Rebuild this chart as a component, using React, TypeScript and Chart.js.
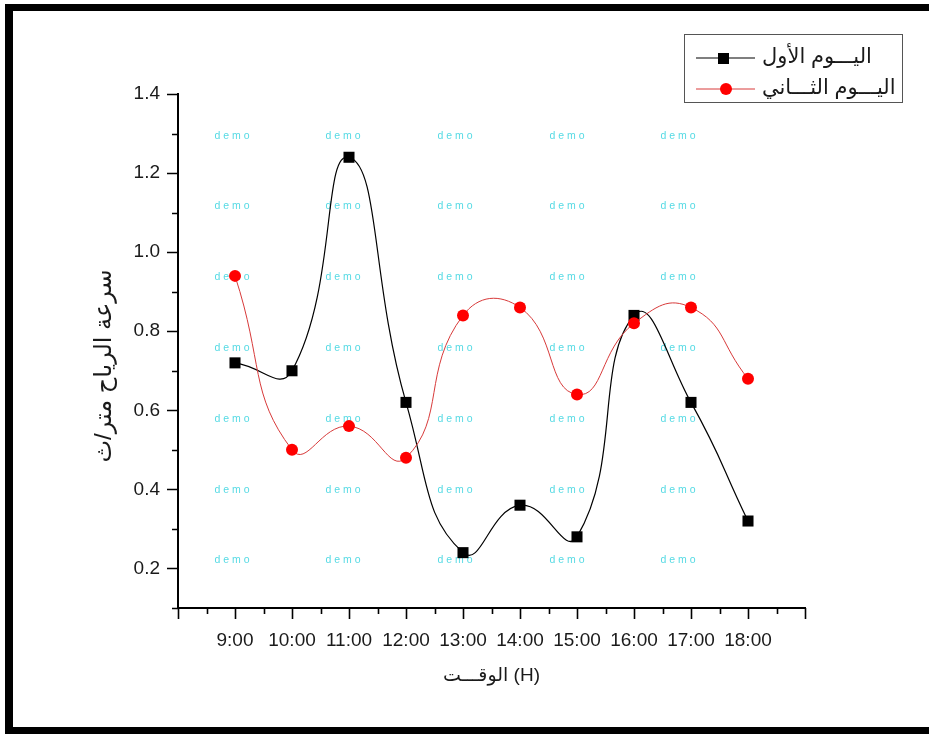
import { useEffect, useRef } from 'react';
import { Chart, registerables } from 'chart.js';

Chart.register(...registerables);

const hours = [9, 10, 11, 12, 13, 14, 15, 16, 17, 18];
const day1Values = [0.72, 0.70, 1.24, 0.62, 0.24, 0.36, 0.28, 0.84, 0.62, 0.32];
const day2Values = [0.94, 0.50, 0.56, 0.48, 0.84, 0.86, 0.64, 0.82, 0.86, 0.68];
const day1Label = 'اليـــوم الأول';
const day2Label = 'اليـــوم الثـــاني';
const xTitle = 'الوقـــت (H)';
const yTitle = 'سرعة الرياح متر/ث';
const watermarkText = 'd e m o';

const FONT = "'Liberation Sans', 'DejaVu Sans', Arial, sans-serif";
const BLACK = '#000000';
const RED_LINE = '#d83a3a';
const RED_FILL = '#ff0000';

const framePlugin = {
  id: 'frame',
  beforeDraw(chart: any) {
    const ctx = chart.ctx;
    ctx.save();
    ctx.fillStyle = '#ffffff';
    ctx.fillRect(0, 0, chart.width, chart.height);
    ctx.fillStyle = '#000000';
    ctx.fillRect(5, 4, chart.width - 5, 7);
    ctx.fillRect(5, 4, 8, chart.height - 4);
    ctx.fillRect(5, 727, chart.width - 5, 7);
    ctx.restore();
  },
};

const watermarkPlugin = {
  id: 'watermark',
  beforeDatasetsDraw(chart: any) {
    const ctx = chart.ctx;
    const cols = [232, 343, 455, 567, 678];
    const rows = [136, 206, 277, 348, 419, 490, 560];
    ctx.save();
    ctx.fillStyle = 'rgb(85, 218, 228)';
    ctx.font = `10.5px ${FONT}`;
    ctx.textAlign = 'center';
    ctx.textBaseline = 'middle';
    for (const cy of rows) for (const cx of cols) ctx.fillText(watermarkText, cx, cy);
    ctx.restore();
  },
};

const axisTicksPlugin = {
  id: 'axisTicks',
  afterDraw(chart: any) {
    const { ctx, chartArea } = chart;
    const x = chart.scales.x;
    const y = chart.scales.y;
    ctx.save();
    ctx.strokeStyle = '#000';
    ctx.lineWidth = 1.6;
    ctx.beginPath();
    for (let h = 16; h <= 38; h++) {
      const px = Math.round(x.getPixelForValue(h / 2)) + 0.5;
      const len = h % 2 === 0 ? 11 : 6;
      ctx.moveTo(px, chartArea.bottom);
      ctx.lineTo(px, chartArea.bottom + len);
    }
    for (let k = 1; k <= 14; k++) {
      const py = Math.round(y.getPixelForValue(k / 10)) + 0.5;
      const len = k % 2 === 0 ? 11 : 6;
      ctx.moveTo(chartArea.left - len, py);
      ctx.lineTo(chartArea.left, py);
    }
    ctx.stroke();
    ctx.restore();
  },
};

const titlesPlugin = {
  id: 'titles',
  afterDraw(chart: any) {
    const { ctx, chartArea } = chart;
    ctx.save();
    ctx.fillStyle = '#1a1a1a';
    ctx.font = `19px ${FONT}`;
    ctx.textAlign = 'center';
    ctx.textBaseline = 'middle';
    ctx.fillText(xTitle, (chartArea.left + chartArea.right) / 2, 676);
    ctx.font = `24px ${FONT}`;
    ctx.translate(104, 366);
    ctx.rotate(-Math.PI / 2);
    ctx.fillText(yTitle, 0, 0);
    ctx.restore();
  },
};

const legendPlugin = {
  id: 'boxLegend',
  afterDraw(chart: any) {
    const ctx = chart.ctx;
    ctx.save();
    ctx.strokeStyle = '#555';
    ctx.lineWidth = 1;
    ctx.strokeRect(684.5, 34.5, 218, 68);
    ctx.strokeStyle = BLACK;
    ctx.lineWidth = 1.2;
    ctx.beginPath();
    ctx.moveTo(696, 58);
    ctx.lineTo(755, 58);
    ctx.stroke();
    ctx.fillStyle = BLACK;
    ctx.fillRect(718, 53, 11, 11);
    ctx.strokeStyle = RED_LINE;
    ctx.lineWidth = 1;
    ctx.beginPath();
    ctx.moveTo(696, 89);
    ctx.lineTo(755, 89);
    ctx.stroke();
    ctx.fillStyle = RED_FILL;
    ctx.beginPath();
    ctx.arc(726, 89, 6, 0, Math.PI * 2);
    ctx.fill();
    ctx.fillStyle = '#1a1a1a';
    ctx.font = `21px ${FONT}`;
    ctx.textAlign = 'left';
    ctx.textBaseline = 'middle';
    ctx.fillText(day1Label, 762, 57);
    ctx.fillText(day2Label, 762, 88);
    ctx.restore();
  },
};

export default function App() {
  const canvasRef = useRef<HTMLCanvasElement | null>(null);

  useEffect(() => {
    if (!canvasRef.current) return;
    const chart = new Chart(canvasRef.current, {
      type: 'line',
      data: {
        datasets: [
          {
            label: day1Label,
            data: hours.map((h, i) => ({ x: h, y: day1Values[i] })),
            borderColor: BLACK,
            backgroundColor: BLACK,
            borderWidth: 1.2,
            pointStyle: 'rect',
            pointRadius: 7.8,
            pointBorderWidth: 0,
            tension: 0.5,
            order: 1,
          },
          {
            label: day2Label,
            data: hours.map((h, i) => ({ x: h, y: day2Values[i] })),
            borderColor: RED_LINE,
            backgroundColor: RED_FILL,
            borderWidth: 1,
            pointStyle: 'circle',
            pointRadius: 6,
            pointBorderWidth: 0,
            tension: 0.5,
            order: 0,
          },
        ],
      },
      options: {
        animation: false,
        responsive: false,
        layout: { padding: { left: 0, top: 94, right: 124, bottom: 0 } },
        plugins: {
          legend: { display: false },
          tooltip: { enabled: false },
        },
        scales: {
          x: {
            type: 'linear',
            min: 8,
            max: 19,
            grid: { display: false, drawTicks: false },
            border: { display: true, color: '#000', width: 2 },
            ticks: {
              stepSize: 1,
              autoSkip: false,
              maxRotation: 0,
              padding: 21,
              color: '#1a1a1a',
              font: { family: FONT, size: 19 },
              callback: (v: any) => (v >= 9 && v <= 18 ? `${v}:00` : ''),
            },
            afterFit: (s: any) => {
              s.height = 126;
            },
          },
          y: {
            type: 'linear',
            min: 0.1,
            max: 1.4,
            grid: { display: false, drawTicks: false },
            border: { display: true, color: '#000', width: 2 },
            ticks: {
              stepSize: 0.1,
              autoSkip: false,
              padding: 18,
              color: '#1a1a1a',
              font: { family: FONT, size: 19 },
              callback: (v: any) => {
                const k = Math.round(Number(v) * 10);
                return k % 2 === 0 ? (k / 10).toFixed(1) : '';
              },
            },
            afterFit: (s: any) => {
              s.width = 178;
            },
          },
        },
      },
      plugins: [framePlugin, watermarkPlugin, axisTicksPlugin, titlesPlugin, legendPlugin],
    } as any);
    return () => chart.destroy();
  }, []);

  return (
    <div style={{ position: 'fixed', left: 0, top: 0, width: 929, height: 734 }}>
      <canvas ref={canvasRef} width={929} height={734} style={{ display: 'block' }} />
    </div>
  );
}
